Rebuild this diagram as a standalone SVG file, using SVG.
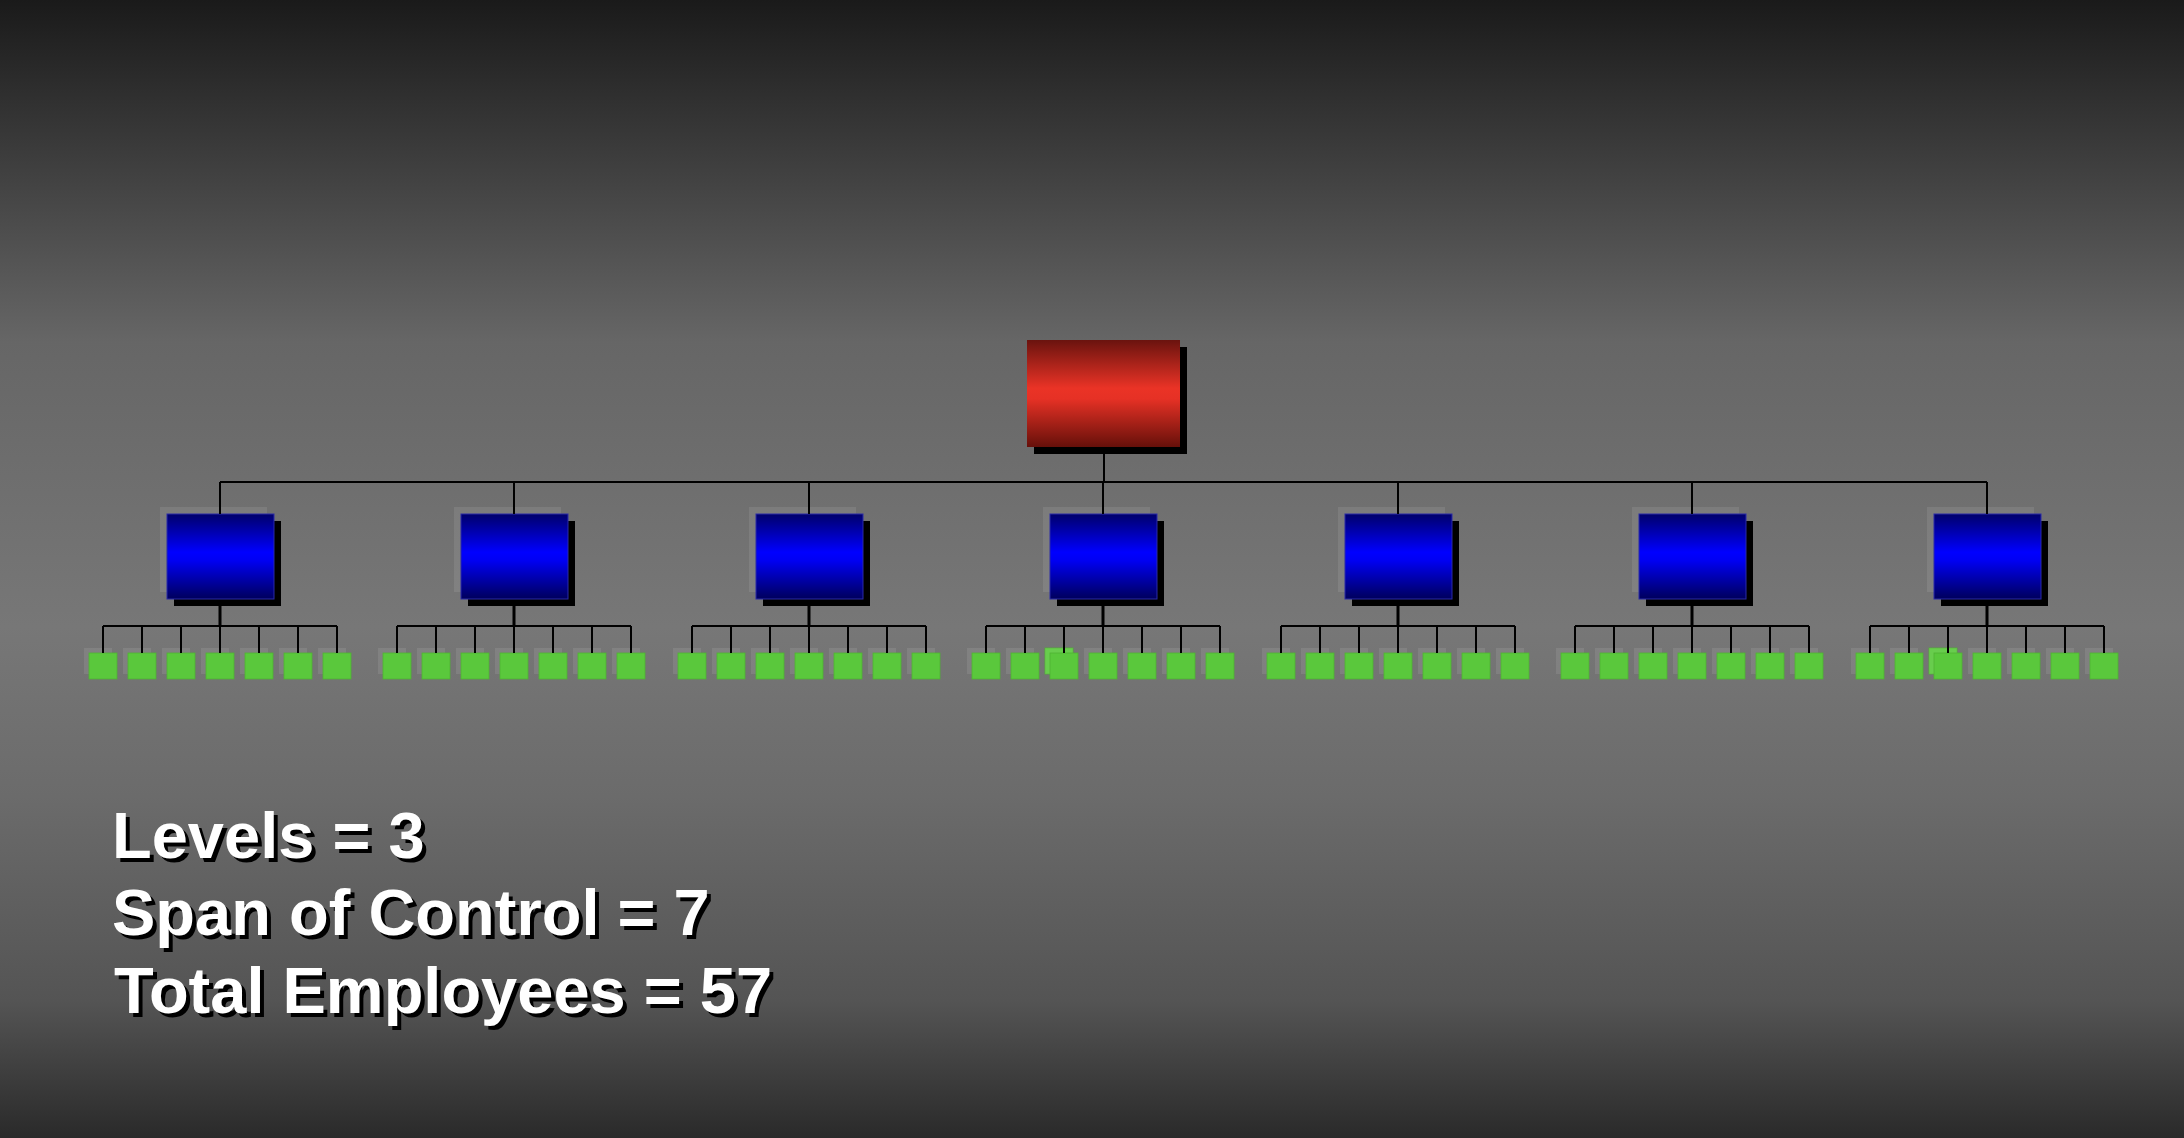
<svg xmlns="http://www.w3.org/2000/svg" xmlns:xlink="http://www.w3.org/1999/xlink" width="2184" height="1138" viewBox="0 0 2184 1138">
<style>
.ln{fill:none;stroke:#000;stroke-width:2}
.lt{fill:none;stroke:#000;stroke-width:3}
.t{font-family:"Liberation Sans",Arial,sans-serif;font-weight:bold;font-size:65px}
.tw{fill:#fff}
.ts{fill:#000}
.gsh{fill:#fff;fill-opacity:0.09}
.bsh{fill:#000}
.grn{fill:#5ac83c;stroke:#4fb232;stroke-width:0.8}
</style>
<defs>
<linearGradient id="bg" x1="0" y1="0" x2="0" y2="1">
<stop offset="0" stop-color="#1a1a1a"/>
<stop offset="0.3" stop-color="#666"/>
<stop offset="0.55" stop-color="#777"/>
<stop offset="0.7" stop-color="#6b6b6b"/>
<stop offset="0.88" stop-color="#545454"/>
<stop offset="1" stop-color="#2a2a2a"/>
</linearGradient>
<linearGradient id="blue" x1="0" y1="0" x2="0" y2="1">
<stop offset="0" stop-color="#00006a"/>
<stop offset="0.45" stop-color="#0000ff"/>
<stop offset="0.55" stop-color="#0000f2"/>
<stop offset="1" stop-color="#00005c"/>
</linearGradient>
<linearGradient id="red" x1="0" y1="0" x2="0" y2="1">
<stop offset="0" stop-color="#6a130e"/>
<stop offset="0.45" stop-color="#ea3326"/>
<stop offset="0.55" stop-color="#e63125"/>
<stop offset="1" stop-color="#66100a"/>
</linearGradient>
<g id="mgr">
<rect class="gsh" x="-60" y="507" width="107" height="85"/>
<rect class="bsh" x="-46" y="521" width="107" height="85"/>
<rect x="-53" y="514" width="107" height="85" fill="url(#blue)" stroke="#2a2aa8" stroke-width="1"/>
</g>
<g id="emp">
<rect class="gsh" x="-19" y="648" width="28" height="26"/>
<rect class="grn" x="-14" y="653" width="28" height="26"/>
</g>
</defs>
<rect x="0" y="0" width="2184" height="1138" fill="url(#bg)"/>

<g id="ceo">
<rect class="bsh" x="1034" y="347" width="153" height="107"/>
<rect x="1027" y="340" width="153" height="107" fill="url(#red)"/>
</g>

<g id="m1"><use xlink:href="#mgr" x="220"/></g>
<g id="m2"><use xlink:href="#mgr" x="514"/></g>
<g id="m3"><use xlink:href="#mgr" x="809"/></g>
<g id="m4"><use xlink:href="#mgr" x="1103"/></g>
<g id="m5"><use xlink:href="#mgr" x="1398"/></g>
<g id="m6"><use xlink:href="#mgr" x="1692"/></g>
<g id="m7"><use xlink:href="#mgr" x="1987"/></g>

<g id="e1-1"><use xlink:href="#emp" x="103"/></g>
<g id="e1-2"><use xlink:href="#emp" x="142"/></g>
<g id="e1-3"><use xlink:href="#emp" x="181"/></g>
<g id="e1-4"><use xlink:href="#emp" x="220"/></g>
<g id="e1-5"><use xlink:href="#emp" x="259"/></g>
<g id="e1-6"><use xlink:href="#emp" x="298"/></g>
<g id="e1-7"><use xlink:href="#emp" x="337"/></g>

<g id="e2-1"><use xlink:href="#emp" x="397"/></g>
<g id="e2-2"><use xlink:href="#emp" x="436"/></g>
<g id="e2-3"><use xlink:href="#emp" x="475"/></g>
<g id="e2-4"><use xlink:href="#emp" x="514"/></g>
<g id="e2-5"><use xlink:href="#emp" x="553"/></g>
<g id="e2-6"><use xlink:href="#emp" x="592"/></g>
<g id="e2-7"><use xlink:href="#emp" x="631"/></g>

<g id="e3-1"><use xlink:href="#emp" x="692"/></g>
<g id="e3-2"><use xlink:href="#emp" x="731"/></g>
<g id="e3-3"><use xlink:href="#emp" x="770"/></g>
<g id="e3-4"><use xlink:href="#emp" x="809"/></g>
<g id="e3-5"><use xlink:href="#emp" x="848"/></g>
<g id="e3-6"><use xlink:href="#emp" x="887"/></g>
<g id="e3-7"><use xlink:href="#emp" x="926"/></g>

<g id="e4-1"><use xlink:href="#emp" x="986"/></g>
<g id="e4-2"><use xlink:href="#emp" x="1025"/></g>
<g id="e4-3"><rect class="grn" x="1045" y="648" width="28" height="26"/><use xlink:href="#emp" x="1064"/></g>
<g id="e4-4"><use xlink:href="#emp" x="1103"/></g>
<g id="e4-5"><use xlink:href="#emp" x="1142"/></g>
<g id="e4-6"><use xlink:href="#emp" x="1181"/></g>
<g id="e4-7"><use xlink:href="#emp" x="1220"/></g>

<g id="e5-1"><use xlink:href="#emp" x="1281"/></g>
<g id="e5-2"><use xlink:href="#emp" x="1320"/></g>
<g id="e5-3"><use xlink:href="#emp" x="1359"/></g>
<g id="e5-4"><use xlink:href="#emp" x="1398"/></g>
<g id="e5-5"><use xlink:href="#emp" x="1437"/></g>
<g id="e5-6"><use xlink:href="#emp" x="1476"/></g>
<g id="e5-7"><use xlink:href="#emp" x="1515"/></g>

<g id="e6-1"><use xlink:href="#emp" x="1575"/></g>
<g id="e6-2"><use xlink:href="#emp" x="1614"/></g>
<g id="e6-3"><use xlink:href="#emp" x="1653"/></g>
<g id="e6-4"><use xlink:href="#emp" x="1692"/></g>
<g id="e6-5"><use xlink:href="#emp" x="1731"/></g>
<g id="e6-6"><use xlink:href="#emp" x="1770"/></g>
<g id="e6-7"><use xlink:href="#emp" x="1809"/></g>

<g id="e7-1"><use xlink:href="#emp" x="1870"/></g>
<g id="e7-2"><use xlink:href="#emp" x="1909"/></g>
<g id="e7-3"><rect class="grn" x="1929" y="648" width="28" height="26"/><use xlink:href="#emp" x="1948"/></g>
<g id="e7-4"><use xlink:href="#emp" x="1987"/></g>
<g id="e7-5"><use xlink:href="#emp" x="2026"/></g>
<g id="e7-6"><use xlink:href="#emp" x="2065"/></g>
<g id="e7-7"><use xlink:href="#emp" x="2104"/></g>

<g id="connectors">
<path class="ln" d="M220 482H1987M1104 454V482"/>
<path class="ln" d="M220 482V514M514 482V514M809 482V514M1103 482V514M1398 482V514M1692 482V514M1987 482V514"/>
<path class="lt" d="M220 606V626M514 606V626M809 606V626M1103 606V626M1398 606V626M1692 606V626M1987 606V626"/>
<path class="ln" d="M103 626H337M103 626V653M142 626V653M181 626V653M220 626V653M259 626V653M298 626V653M337 626V653"/>
<path class="ln" d="M397 626H631M397 626V653M436 626V653M475 626V653M514 626V653M553 626V653M592 626V653M631 626V653"/>
<path class="ln" d="M692 626H926M692 626V653M731 626V653M770 626V653M809 626V653M848 626V653M887 626V653M926 626V653"/>
<path class="ln" d="M986 626H1220M986 626V653M1025 626V653M1064 626V653M1103 626V653M1142 626V653M1181 626V653M1220 626V653"/>
<path class="ln" d="M1281 626H1515M1281 626V653M1320 626V653M1359 626V653M1398 626V653M1437 626V653M1476 626V653M1515 626V653"/>
<path class="ln" d="M1575 626H1809M1575 626V653M1614 626V653M1653 626V653M1692 626V653M1731 626V653M1770 626V653M1809 626V653"/>
<path class="ln" d="M1870 626H2104M1870 626V653M1909 626V653M1948 626V653M1987 626V653M2026 626V653M2065 626V653M2104 626V653"/>
</g>

<g id="summary" class="t">
<text class="ts" x="116" y="862">Levels = 3</text>
<text class="tw" x="112" y="858">Levels = 3</text>
<text class="ts" x="116" y="939">Span of Control = 7</text>
<text class="tw" x="112" y="935">Span of Control = 7</text>
<text class="ts" x="118" y="1017">Total Employees = 57</text>
<text class="tw" x="114" y="1013">Total Employees = 57</text>
</g>
</svg>
